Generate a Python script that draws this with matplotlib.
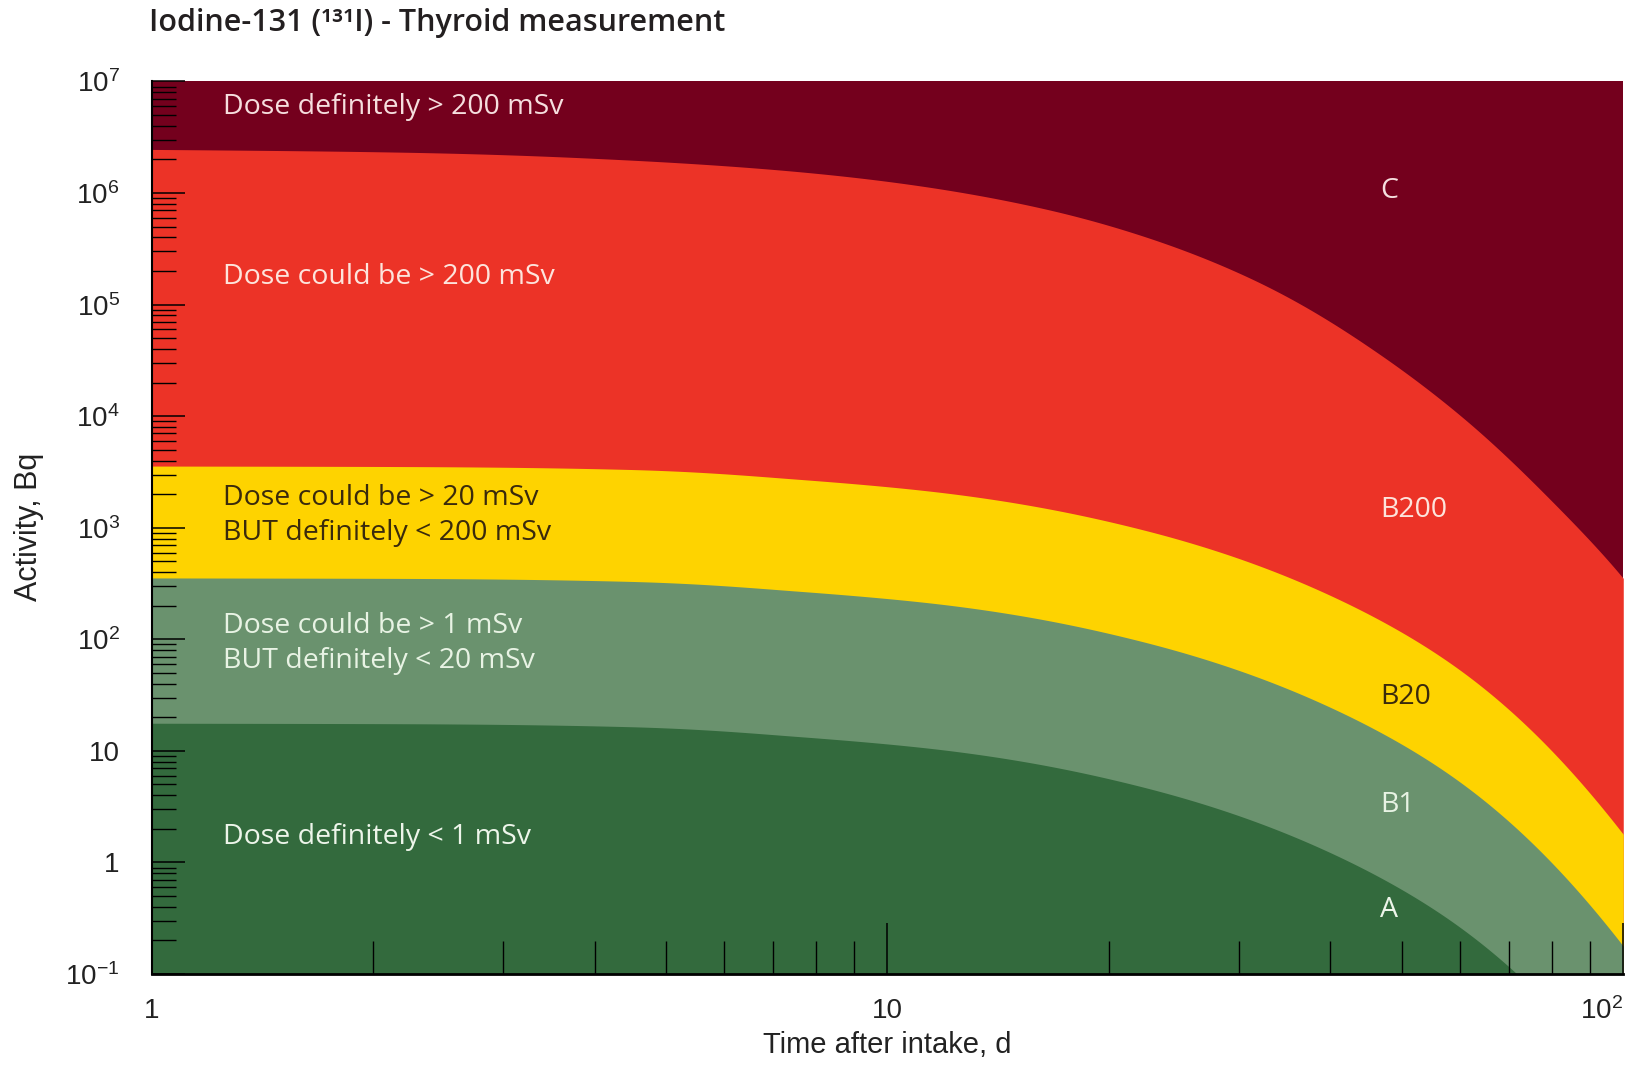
import matplotlib.pyplot as plt
import numpy as np
from matplotlib.ticker import FixedLocator, NullFormatter, LogLocator
from matplotlib.transforms import ScaledTranslation

# boundary curves (time in days, activity in Bq)
c_days = [1, 2.3, 4.43, 8.52, 16.4, 22.7, 31.5, 47.0, 60.6, 78.8, 100]
c_bq = [2.46e6, 2.31e6, 1.98e6, 1.44e6, 7.19e5, 3.94e5, 1.66e5, 3.47e4, 9.64e3, 1.91e3, 352]

b_days = [1, 2.3, 4.43, 7.62, 12.3, 22.2, 37.6, 60.6, 100]
b200_bq = [3573, 3532, 3334, 2710, 2009, 962, 297, 50.5, 1.79]
b20_bq = [355, 351, 331, 269, 200, 95.5, 29.5, 5.01, 0.178]
b1_bq = [17.7, 17.5, 16.5, 13.4, 9.95, 4.76, 1.47, 0.250, 0.0089]

y_ticks = [0.1, 1, 10, 1e2, 1e3, 1e4, 1e5, 1e6, 1e7]
y_labels = ['$\\mathregular{10^{-1}}$', '1', '10', '$\\mathregular{10^{2}}$',
            '$\\mathregular{10^{3}}$', '$\\mathregular{10^{4}}$',
            '$\\mathregular{10^{5}}$', '$\\mathregular{10^{6}}$',
            '$\\mathregular{10^{7}}$']
x_ticks = [1, 10, 100]
x_labels = ['1', '10', '$\\mathregular{10^{2}}$']

dark_red = '#74001d'
red = '#ec3327'
yellow = '#fed300'
light_green = '#6a926e'
dark_green = '#336a3d'


def smooth_curve(xs, ys, n=500):
    # monotone cubic (pchip) through the read points: days linear, activity in log
    lx = np.asarray(xs, dtype=float)
    ly = np.log10(ys)
    h = np.diff(lx)
    d = np.diff(ly) / h
    m = np.zeros_like(lx)
    m[0] = d[0]
    m[-1] = d[-1]
    for k in range(1, len(lx) - 1):
        if d[k - 1] * d[k] <= 0:
            m[k] = 0
        else:
            w1 = 2 * h[k] + h[k - 1]
            w2 = h[k] + 2 * h[k - 1]
            m[k] = (w1 + w2) / (w1 / d[k - 1] + w2 / d[k])
    gx = np.logspace(np.log10(lx[0]), np.log10(lx[-1]), n)
    gx[-1] = lx[-1]
    idx = np.clip(np.searchsorted(lx, gx) - 1, 0, len(lx) - 2)
    t = (gx - lx[idx]) / h[idx]
    h00 = 2 * t**3 - 3 * t**2 + 1
    h10 = t**3 - 2 * t**2 + t
    h01 = -2 * t**3 + 3 * t**2
    h11 = t**3 - t**2
    gy = h00 * ly[idx] + h10 * h[idx] * m[idx] + h01 * ly[idx + 1] + h11 * h[idx] * m[idx + 1]
    return gx, 10**gy


plt.rcParams['font.family'] = ['Liberation Sans', 'DejaVu Sans']
label_font = ['Open Sans', 'DejaVu Sans']

fig = plt.figure(figsize=(16.39, 10.65), dpi=100)
ax = fig.add_axes([0.0925, 0.0854, 0.8979, 0.8381])
ax.set_xscale('log')
ax.set_yscale('log')
ax.set_facecolor(dark_red)

for xs, ys, col in [(c_days, c_bq, red), (b_days, b200_bq, yellow),
                    (b_days, b20_bq, light_green), (b_days, b1_bq, dark_green)]:
    sx, sy = smooth_curve(xs, ys)
    ax.fill_between(sx, sy, 0.1, color=col, lw=0)

ax.set_xlim(1, 100)
ax.set_ylim(0.1, 1e7)

ax.yaxis.set_major_locator(FixedLocator(y_ticks))
ax.set_yticklabels(y_labels)
ax.yaxis.set_minor_locator(LogLocator(subs=np.arange(2, 10), numticks=20))
ax.yaxis.set_minor_formatter(NullFormatter())
ax.xaxis.set_major_locator(FixedLocator(x_ticks))
ax.set_xticklabels(x_labels)
ax.xaxis.set_minor_locator(LogLocator(subs=np.arange(2, 10), numticks=20))
ax.xaxis.set_minor_formatter(NullFormatter())
last = ax.get_xticklabels()[-1]
last.set_horizontalalignment('right')
last.set_transform(last.get_transform() + ScaledTranslation(5 / 72, 0, fig.dpi_scale_trans))

ax.tick_params(axis='y', which='major', direction='in', length=24, width=1.1,
               pad=23, labelsize=20, labelcolor='#222222')
ax.tick_params(axis='y', which='minor', direction='in', length=17, width=1.0)
ax.tick_params(axis='x', which='major', direction='in', length=37, width=1.1,
               pad=17, labelsize=20, labelcolor='#222222')
ax.tick_params(axis='x', which='minor', direction='in', length=24, width=1.0)

for s in ['top', 'right']:
    ax.spines[s].set_visible(False)
ax.spines['left'].set_linewidth(1.5)
ax.spines['bottom'].set_linewidth(2)

fs = 20.5
# zone descriptions
ax.text(1.25, 5.96e6, 'Dose definitely > 200 mSv', color='#f6dede', fontsize=fs,
        family=label_font, va='center')
ax.text(1.25, 1.77e5, 'Dose could be > 200 mSv', color='#fde4dc', fontsize=fs,
        family=label_font, va='center')
ax.text(1.25, 1.29e3, 'Dose could be > 20 mSv\nBUT definitely < 200 mSv', color='#3a2a0c',
        fontsize=fs, family=label_font, va='center', linespacing=1.35)
ax.text(1.25, 92, 'Dose could be > 1 mSv\nBUT definitely < 20 mSv', color='#e8f3e4',
        fontsize=fs, family=label_font, va='center', linespacing=1.35)
ax.text(1.25, 1.69, 'Dose definitely < 1 mSv', color='#edf5ea', fontsize=fs,
        family=label_font, va='center')

# zone codes
ax.text(46.7, 1.04e6, 'C', color='#f6dede', fontsize=fs, family=label_font, va='center')
ax.text(46.7, 1.44e3, 'B200', color='#fde4dc', fontsize=fs, family=label_font, va='center')
ax.text(46.7, 30.3, 'B20', color='#3a2a0c', fontsize=fs, family=label_font, va='center')
ax.text(46.7, 3.3, 'B1', color='#e8f3e4', fontsize=fs, family=label_font, va='center')
ax.text(46.7, 0.372, 'A', color='#edf5ea', fontsize=fs, family=label_font, va='center')

fig.text(0.0912, 0.978, 'Iodine-131 (¹³¹I) - Thyroid measurement', fontsize=22,
         family=label_font, fontweight='semibold', color='#231f20', va='center')
fig.text(0.0179, 0.505, 'Activity, Bq', rotation=90, fontsize=22, color='#222222',
         ha='center', va='center')
fig.text(0.5415, 0.0186, 'Time after intake, d', fontsize=21, color='#222222',
         ha='center', va='center')

fig.savefig('out.png', dpi=100)
